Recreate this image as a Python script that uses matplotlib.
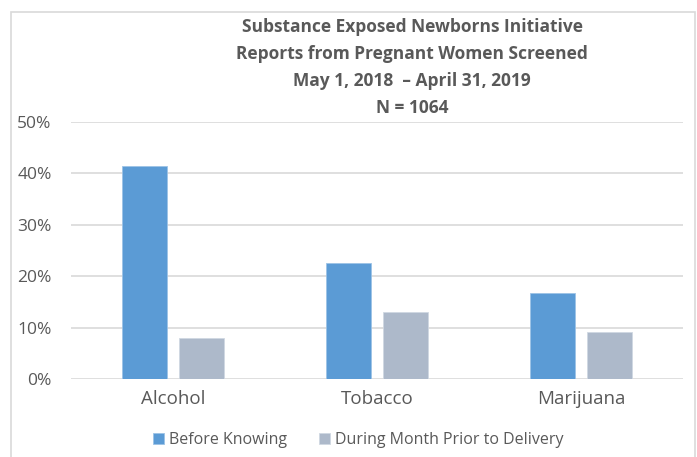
import matplotlib
matplotlib.use("Agg")
import matplotlib.pyplot as plt
import numpy as np
from matplotlib.patches import Rectangle

# data
categories = ["Alcohol", "Tobacco", "Marijuana"]
before_knowing = [41.5, 22.6, 16.8]
month_prior = [8.0, 13.0, 9.1]
series_names = ["Before Knowing", "During Month Prior to Delivery"]
title_lines = ["Substance Exposed Newborns Initiative",
               "Reports from Pregnant Women Screened",
               "May 1, 2018  \u2013 April 31, 2019",
               "N = 1064"]

blue = "#5B9BD5"
grey = "#ADB9CA"
txt = "#595959"
grid_c = "#D9D9D9"

plt.rcParams["font.family"] = ["Open Sans", "DejaVu Sans"]

fig = plt.figure(figsize=(6.97, 4.57), dpi=100)
ax = fig.add_axes([71 / 697, 1 - 379 / 457, (683 - 71) / 697, (379 - 122) / 457])

x = np.arange(len(categories))
w = 0.22
ax.bar(x - 0.14, before_knowing, w, color=blue, edgecolor="#9DC3E6", linewidth=0.6,
       label=series_names[0], zorder=3)
ax.bar(x + 0.14, month_prior, w, color=grey, edgecolor="#D0D8E2", linewidth=0.6,
       label=series_names[1], zorder=3)

ax.set_xlim(-0.5, 2.5)
ax.set_ylim(0, 50)
ax.set_yticks(range(0, 51, 10))
ax.set_yticklabels([f"{v}%" for v in range(0, 51, 10)], fontsize=12.5, color=txt)
ax.set_xticks(x)
ax.set_xticklabels(categories, fontsize=13.5, color=txt)
ax.tick_params(length=0)
ax.tick_params(axis="y", pad=14)
ax.tick_params(axis="x", pad=8)
ax.grid(axis="y", color=grid_c, linewidth=1.2, zorder=0)
for s in ax.spines.values():
    s.set_visible(False)

leg = ax.legend(loc="upper center", bbox_to_anchor=(0.47, -0.15), ncol=2, frameon=False,
                fontsize=11.5, handlelength=0.65, handleheight=0.65, handletextpad=0.35,
                columnspacing=2.0, labelcolor=txt)

# title block
for i, line in enumerate(title_lines):
    fig.text(412 / 697, 1 - (27 + i * 27) / 457, line, ha="center", va="center",
             fontsize=12.5, fontweight="bold", color=txt)

# outer chart frame
fig.patches.append(Rectangle((11 / 697, -0.01), (695 - 11) / 697, 1.01 - 12 / 457,
                             transform=fig.transFigure, fill=False,
                             edgecolor=grid_c, linewidth=1.2))

fig.savefig("out.png", dpi=100)
